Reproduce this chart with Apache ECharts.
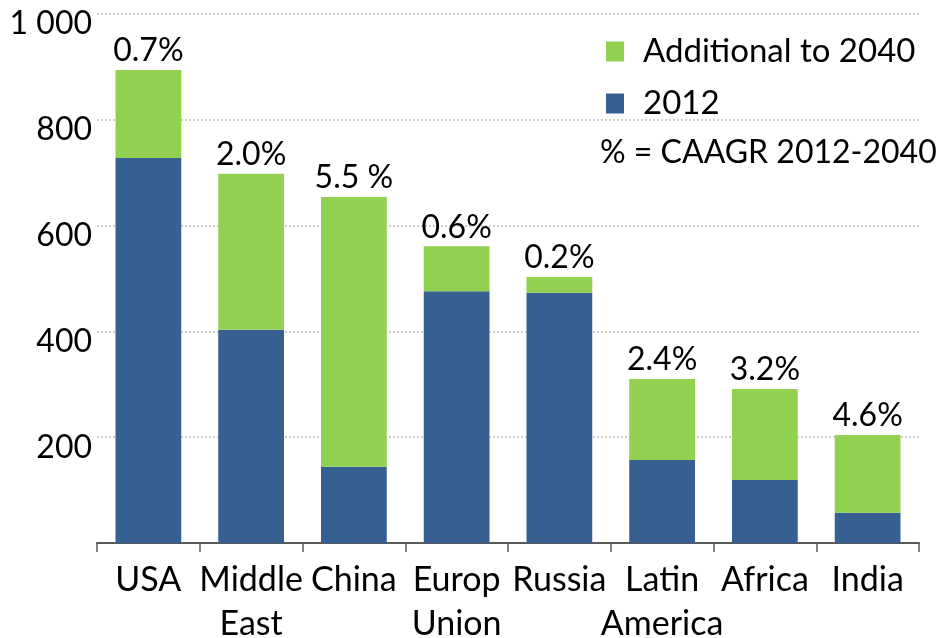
<!DOCTYPE html>
<html>
<head>
<meta charset="utf-8">
<script src="https://cdn.jsdelivr.net/npm/echarts@6/dist/echarts.min.js"></script>
<style>
  html, body { margin: 0; padding: 0; background: #fff; }
  #chart { width: 943px; height: 638px; }
</style>
</head>
<body>
<div id="chart"></div>
<script>
// categories and values
const regions = ["USA", "Middle\nEast", "China", "Europ\nUnion", "Russia", "Latin\nAmerica", "Africa", "India"];
const base2012 = [728, 403, 144, 476, 473, 157, 119, 57];
const additional2040 = [166, 295, 510, 85, 30, 153, 172, 147];
const growthLabels = ["0.7%", "2.0%", "5.5 %", "0.6%", "0.2%", "2.4%", "3.2%", "4.6%"];
const yTicks = [0, 200, 400, 600, 800, 1000];

const FONT = "Lato";
const chart = echarts.init(document.getElementById("chart"));

const options = {
  animation: false,
  textStyle: { fontFamily: FONT, color: "#000" },
  grid: { left: 97, right: 24, top: 14, bottom: 95, outerBoundsMode: "none", containLabel: false },
  legend: {
    orient: "vertical",
    left: 601,
    top: 30,
    itemWidth: 18,
    itemHeight: 20,
    itemGap: 19,
    icon: "rect",
    data: ["Additional to 2040", "2012"],
    textStyle: { fontFamily: FONT, fontSize: 33, color: "#000", padding: [0, 0, 0, 14] },
  },
  graphic: [
    {
      type: "text",
      left: 600,
      top: 137,
      style: { text: "% = CAAGR 2012-2040", font: "32px " + FONT, fill: "#000" },
    },
  ],
  xAxis: {
    type: "category",
    data: regions,
    axisLine: { lineStyle: { color: "#595959", width: 2 } },
    axisTick: { show: true, length: 9, lineStyle: { color: "#595959", width: 1.5 } },
    axisLabel: { fontSize: 34, lineHeight: 44, color: "#000", margin: 15, interval: 0 },
  },
  yAxis: {
    type: "value",
    min: yTicks[0],
    max: yTicks[yTicks.length - 1],
    interval: 200,
    axisLine: { show: false },
    axisTick: { show: false },
    splitLine: { lineStyle: { color: "#bfbfbf", type: [2, 2], width: 1.5 } },
    axisLabel: {
      fontSize: 32,
      color: "#000",
      margin: 5,
      verticalAlign: "top",
      lineHeight: 20,
      formatter: (v) => (v === 0 ? "" : String(v).replace(/\B(?=(\d{3})+(?!\d))/g, " ")),
    },
  },
  series: [
    {
      name: "2012",
      type: "bar",
      stack: "total",
      barWidth: "64%",
      data: base2012,
      itemStyle: { color: "#376092" },
    },
    {
      name: "Additional to 2040",
      type: "bar",
      stack: "total",
      data: additional2040,
      itemStyle: { color: "#92D050" },
      label: {
        show: true,
        position: "top",
        distance: 3,
        fontSize: 32,
        color: "#000",
        formatter: (p) => growthLabels[p.dataIndex],
      },
    },
  ],
};

chart.setOption(options);
</script>
</body>
</html>
